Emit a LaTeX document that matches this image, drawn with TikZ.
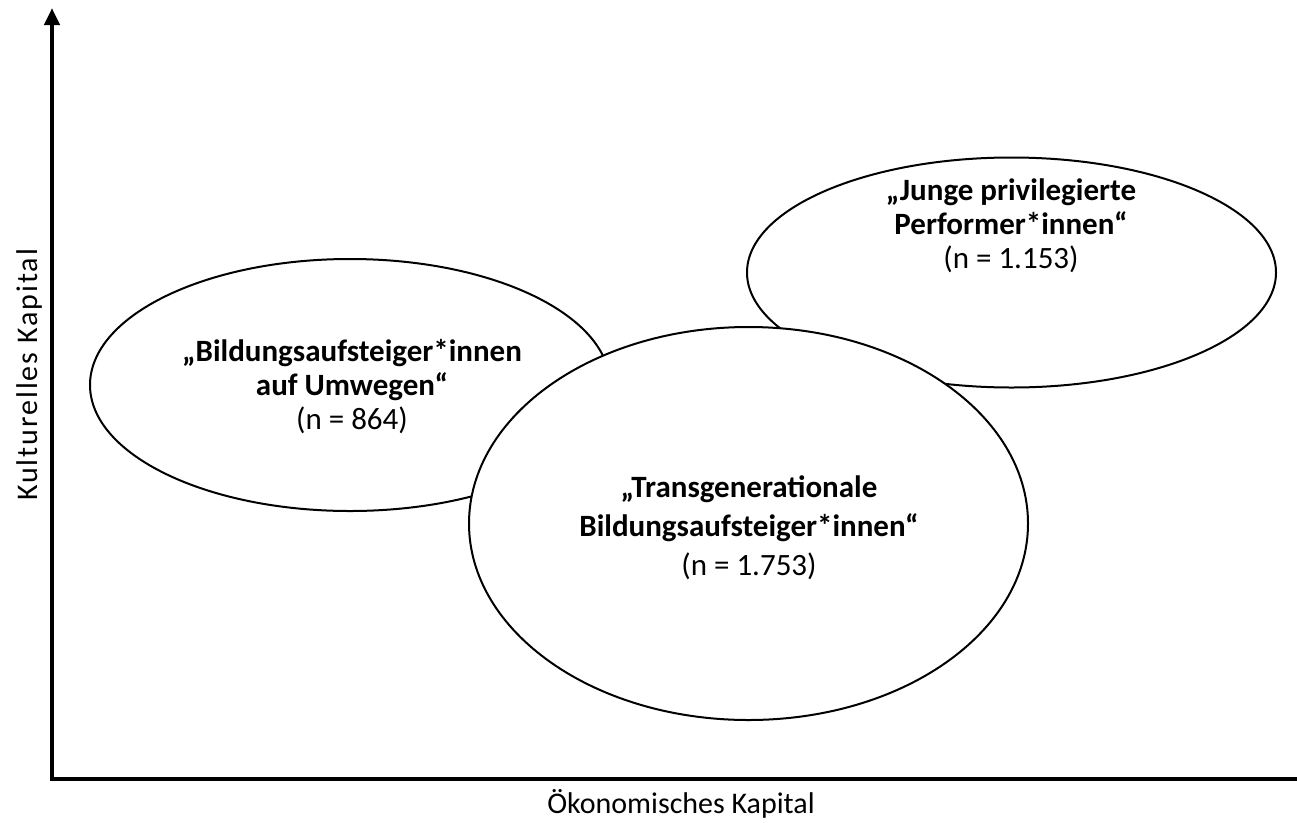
\documentclass[tikz,border=0pt]{standalone}
\usepackage{fontspec}
\setmainfont{Carlito}
\newfontfamily\ylabfont[LetterSpace=6.5]{Carlito}
\usetikzlibrary{arrows.meta,shapes.geometric}
\begin{document}
\begin{tikzpicture}[x=1pt,y=-1pt,
  blob/.style={ellipse,draw=black,line width=2pt,fill=white,inner sep=0pt},
  axis/.style={line width=4.5pt,line join=miter},
  title/.style={align=center,font=\fontsize{31}{34}\selectfont,inner sep=0pt},
  axlabel/.style={font=\fontsize{30}{33}\selectfont,inner sep=0pt,anchor=base}]
\fill[white] (0,0) rectangle (1297,822);
\useasboundingbox (0,0) rectangle (1297,822);
% axes
\coordinate (top) at (52,8);
\coordinate (origin) at (52,779);
\coordinate (right) at (1297,779);
\draw[axis,{Triangle[length=17pt,width=15pt]}-] (top) -- (origin) -- (right);
\node[axlabel,rotate=90,font=\ylabfont\fontsize{30}{33}\selectfont] (ylab) at (37,375) {Kulturelles Kapital};
\node[axlabel] (xlab) at (681,813) {Ökonomisches Kapital};
% ellipses
\node[blob,minimum width=520pt,minimum height=252pt] (left) at (350,385) {};
\node[blob,minimum width=529pt,minimum height=230pt] (perf) at (1011.5,272.5) {};
\node[blob,minimum width=559pt,minimum height=393pt] (trans) at (748.5,523.5) {};
% texts
\node[title] (lefttxt) at (352,387) {\textbf{„Bildungsaufsteiger*innen}\\\textbf{auf Umwegen“}\\(n = 864)};
\node[title] (perftxt) at (1011,226) {\textbf{„Junge privilegierte}\\\textbf{Performer*innen“}\\(n = 1.153)};
\node[title,font=\fontsize{31}{39}\selectfont] (transtxt) at (749,528) {\textbf{„Transgenerationale}\\\textbf{Bildungsaufsteiger*innen“}\\(n = 1.753)};
\end{tikzpicture}
\end{document}
